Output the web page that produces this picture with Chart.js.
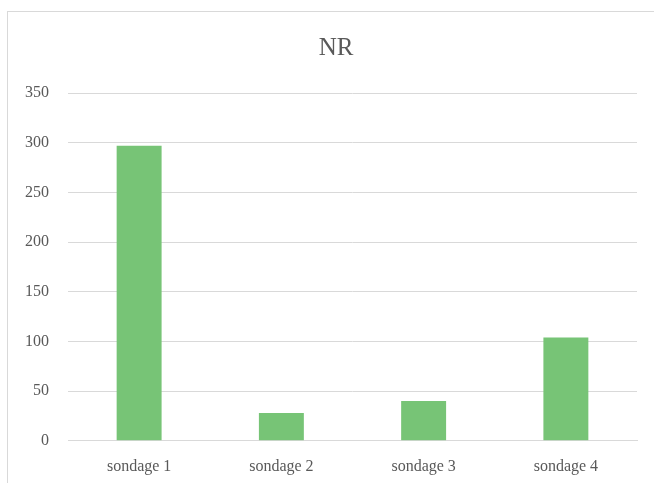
<!DOCTYPE html>
<html>
<head>
<meta charset="utf-8">
<script src="https://cdn.jsdelivr.net/npm/chart.js@4/dist/chart.umd.min.js"></script>
<style>
  html, body { margin: 0; padding: 0; background: #ffffff; }
  #wrap { position: relative; width: 654px; height: 483px; overflow: hidden; }
  #frame { position: absolute; left: 7px; top: 11px; width: 700px; height: 520px; border: 1px solid #d9d9d9; box-sizing: border-box; }
  canvas { position: absolute; left: 0; top: 0; }
</style>
</head>
<body>
<div id="wrap">
  <div id="frame"></div>
  <canvas id="c" width="654" height="504"></canvas>
</div>
<script>
const categories = ['sondage 1', 'sondage 2', 'sondage 3', 'sondage 4'];
const nrValues = [297, 28, 40, 104];
const yTicks = [0, 50, 100, 150, 200, 250, 300, 350];
const chartTitle = 'NR';

const serif = "'Liberation Serif', 'Times New Roman', serif";

// Title centred on the full frame width (which runs past the right edge)
const frameTitle = {
  id: 'frameTitle',
  afterDraw(chart) {
    const ctx = chart.ctx;
    ctx.save();
    ctx.font = "25px " + serif;
    ctx.fillStyle = '#595959';
    ctx.textAlign = 'center';
    ctx.textBaseline = 'middle';
    ctx.fillText(chartTitle, 336, 48);
    ctx.restore();
  }
};

new Chart(document.getElementById('c'), {
  type: 'bar',
  data: {
    labels: categories,
    datasets: [{
      label: chartTitle,
      data: nrValues,
      backgroundColor: '#77c476',
      borderWidth: 0,
      categoryPercentage: 1,
      barPercentage: 0.316
    }]
  },
  options: {
    responsive: false,
    animation: false,
    layout: { padding: { left: 6, right: 17, top: 93, bottom: 12 } },
    plugins: {
      legend: { display: false },
      tooltip: { enabled: false },
      title: { display: false }
    },
    scales: {
      x: {
        grid: { display: false, drawTicks: false },
        border: { display: true, color: '#d9d9d9', width: 1 },
        ticks: { color: '#595959', font: { family: serif, size: 16 }, padding: 16 }
      },
      y: {
        min: 0,
        max: 350,
        afterBuildTicks: (axis) => { axis.ticks = yTicks.map(v => ({ value: v })); },
        grid: { color: '#d9d9d9', drawTicks: false },
        border: { display: false },
        ticks: { color: '#595959', font: { family: serif, size: 16 }, padding: 19 }
      }
    }
  },
  plugins: [frameTitle]
});
</script>
</body>
</html>
